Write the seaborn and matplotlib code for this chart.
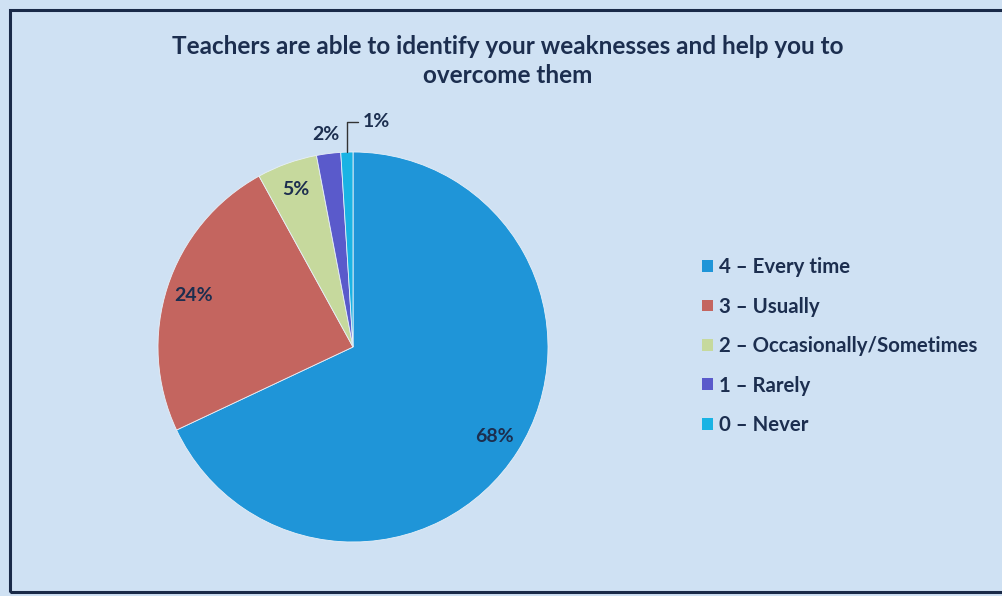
import matplotlib
matplotlib.use("Agg")
import matplotlib.pyplot as plt
import seaborn as sns
import numpy as np
from matplotlib.patches import Patch, Rectangle

# data
categories = ["4 \u2013 Every time", "3 \u2013 Usually", "2 \u2013 Occasionally/Sometimes",
              "1 \u2013 Rarely", "0 \u2013 Never"]
shares = [68, 24, 5, 2, 1]
colors = ["#1f95d8", "#c4655f", "#c6d99d", "#5a5acb", "#19b3e4"]
title = "Teachers are able to identify your weaknesses and help you to\novercome them"

sns.set_theme(style="white")
plt.rcParams["font.family"] = ["Lato", "DejaVu Sans"]

bg = "#cfe1f3"
ink = "#1c2e4f"

fig = plt.figure(figsize=(10.02, 5.96), dpi=100)
fig.patch.set_facecolor(bg)

# slide frame
fig.patches.append(Rectangle((10 / 1002, 4 / 596), 1.2, (596 - 14) / 596,
                             transform=fig.transFigure, fill=False,
                             edgecolor="#1a2a48", linewidth=2.2))

fig.text(508 / 1002, 1 - 61 / 596, title, ha="center", va="center",
         fontsize=17.5, fontweight="bold", color=ink, linespacing=1.36)

# pie, centre ~ (353, 347) px, radius ~195 px
cx, cy, r = 353, 347, 195
ax = fig.add_axes([(cx - r) / 1002, (596 - cy - r) / 596, 2 * r / 1002, 2 * r / 596])
ax.set_facecolor(bg)
palette = sns.color_palette(colors)
wedges, _ = ax.pie(shares, colors=palette, startangle=90, counterclock=False,
                   wedgeprops=dict(edgecolor="#e8f0f8", linewidth=0.6))
ax.set_xlim(-1, 1)
ax.set_ylim(-1, 1)
ax.set_aspect("equal")

for i, (w, v) in enumerate(zip(wedges, shares)):
    mid = np.deg2rad((w.theta1 + w.theta2) / 2)
    if v >= 5:
        d = 0.86
        ax.text(d * np.cos(mid), d * np.sin(mid), f"{v}%", ha="center", va="center",
                fontsize=14, fontweight="bold", color=ink)
    elif i == 3:
        d = 1.1
        ax.text(d * np.cos(mid), d * np.sin(mid), f"{v}%", ha="center", va="center",
                fontsize=14, fontweight="bold", color=ink)
    else:
        ax.annotate(f"{v}%", xy=(np.cos(mid), np.sin(mid)), xytext=(0.05, 1.155),
                    ha="left", va="center", fontsize=14, fontweight="bold", color=ink,
                    annotation_clip=False,
                    arrowprops=dict(arrowstyle="-", color="#333333", lw=1.0,
                                    shrinkA=1, shrinkB=0,
                                    connectionstyle="angle,angleA=0,angleB=90,rad=0"))

handles = [Patch(facecolor=c, edgecolor="none") for c in palette]
leg = fig.legend(handles, categories, loc="upper left",
                 bbox_to_anchor=(684 / 1002, 1 - 239 / 596), frameon=False,
                 fontsize=14.7, handlelength=0.5, handleheight=0.5,
                 handletextpad=0.3, labelspacing=0.95)
for t in leg.get_texts():
    t.set_color(ink)
    t.set_fontweight("bold")

fig.savefig("out.png", dpi=100, facecolor=bg)
